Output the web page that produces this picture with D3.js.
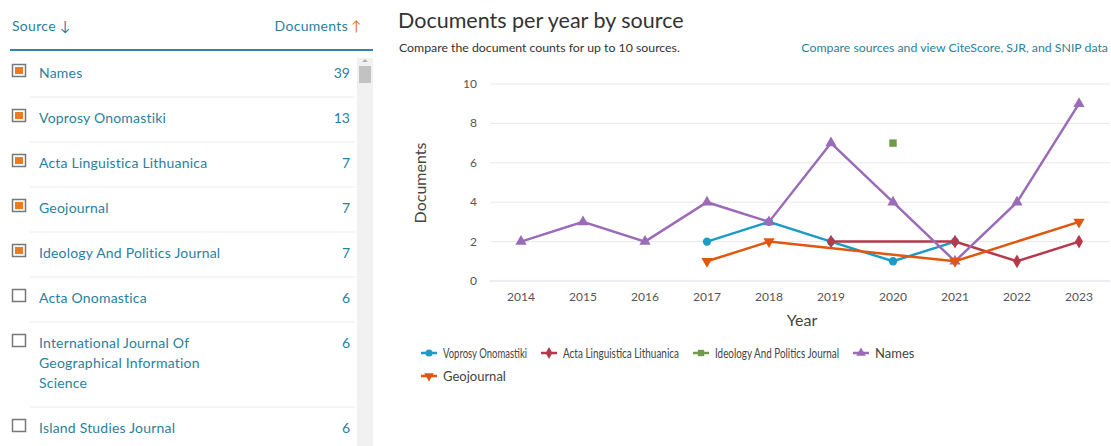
<!DOCTYPE html>
<html>
<head>
<meta charset="utf-8">
<script src="https://cdn.jsdelivr.net/npm/d3@7.9.0/dist/d3.min.js"></script>
<style>
  body { margin: 0; background: #fff; font-family: Lato, "Open Sans", sans-serif; }
  svg { display: block; }
</style>
</head>
<body>
<svg id="chart"></svg>
<script>
const width = 1111;
const height = 446;

// Data
const years = [2014, 2015, 2016, 2017, 2018, 2019, 2020, 2021, 2022, 2023];
const yTicks = [0, 2, 4, 6, 8, 10];
const voprosy = [null, null, null, 2, 3, 2, 1, 2, null, null];
const actaLing = [null, null, null, null, null, 2, null, 2, 1, 2];
const ideology = [null, null, null, null, null, null, 7, null, null, null];
const names = [2, 3, 2, 4, 3, 7, 4, 1, 4, 9];
const geojournal = [null, null, null, 1, 2, null, null, 1, null, 3];

const sourceNames = ["Names", "Voprosy Onomastiki", "Acta Linguistica Lithuanica", "Geojournal",
  "Ideology And Politics Journal", "Acta Onomastica",
  "International Journal Of Geographical Information Science", "Island Studies Journal"];
const sourceCounts = [39, 13, 7, 7, 7, 6, 6, 6];
const sourceChecked = [true, true, true, true, true, false, false, false];

const series = [
  { name: "Voprosy Onomastiki", values: voprosy, color: "#1c9bc6", symbol: d3.symbolCircle },
  { name: "Acta Linguistica Lithuanica", values: actaLing, color: "#b5394b", symbol: d3.symbolDiamond },
  { name: "Ideology And Politics Journal", values: ideology, color: "#6e9a4c", symbol: d3.symbolSquare },
  { name: "Names", values: names, color: "#9b6bb8", symbol: d3.symbolTriangle },
  { name: "Geojournal", values: geojournal, color: "#e0570f", symbol: "down" }
];

const svg = d3.select("#chart").attr("width", width).attr("height", height);

// ---- left source list ----
const teal = "#2a7f9e";
const left = svg.append("g");
left.append("text").attr("x", 12).attr("y", 31).attr("fill", teal).style("font-size", "14px")
  .style("letter-spacing", "0.3px").text("Source \u2193");
left.append("text").attr("x", 348).attr("y", 31).attr("text-anchor", "end").attr("fill", teal)
  .style("font-size", "14px").style("letter-spacing", "0.3px").text("Documents");
left.append("text").attr("x", 351).attr("y", 31).attr("fill", "#e8761e").style("font-size", "14px").text("\u2191");
left.append("line").attr("x1", 10).attr("x2", 373).attr("y1", 50).attr("y2", 50).attr("stroke", "#2f86a8").attr("stroke-width", 2);

// scrollbar
left.append("rect").attr("x", 357).attr("y", 58).attr("width", 16).attr("height", 388).attr("fill", "#f1f1f1");
left.append("rect").attr("x", 359).attr("y", 66).attr("width", 12).attr("height", 17).attr("fill", "#c2c2c2");
left.append("path").attr("d", "M362,62 L365,59 L368,62 Z").attr("fill", "#b0b0b0");

const rowTops = [52, 97, 142, 187, 232, 277, 322, 407];
const wrapped = {
  "International Journal Of Geographical Information Science":
    ["International Journal Of", "Geographical Information", "Science"]
};
sourceNames.forEach((name, i) => {
  const y = rowTops[i] + 21;
  const g = left.append("g");
  g.append("rect").attr("x", 12.5).attr("y", y - 8.5).attr("width", 13).attr("height", 12)
    .attr("fill", "#fff").attr("stroke", "#777").attr("stroke-width", 1.5);
  if (sourceChecked[i]) {
    g.append("rect").attr("x", 15).attr("y", y - 6).attr("width", 8).attr("height", 7).attr("fill", "#f07a1a");
  }
  const lines = wrapped[name] || [name];
  lines.forEach((t, k) => {
    g.append("text").attr("x", 39).attr("y", y + 5 + k * 20).attr("fill", teal)
      .style("font-size", "14px").style("letter-spacing", "0.2px").text(t);
  });
  g.append("text").attr("x", 350).attr("y", y + 5).attr("text-anchor", "end").attr("fill", teal)
    .style("font-size", "14px").text(sourceCounts[i]);
  if (i < sourceNames.length - 1) {
    const next = rowTops[i + 1];
    g.append("line").attr("x1", 30).attr("x2", 355).attr("y1", next).attr("y2", next)
      .attr("stroke", "#ececec").attr("stroke-width", 1);
  }
});

// ---- chart header ----
svg.append("text").attr("x", 398).attr("y", 28).attr("fill", "#333").style("font-size", "21.5px")
  .text("Documents per year by source");
svg.append("text").attr("x", 399).attr("y", 52).attr("fill", "#333").style("font-size", "12.3px")
  .text("Compare the document counts for up to 10 sources.");
svg.append("text").attr("x", 1108).attr("y", 52).attr("text-anchor", "end").attr("fill", teal)
  .style("font-size", "12.3px").text("Compare sources and view CiteScore, SJR, and SNIP data");

// ---- plot ----
const x = d3.scalePoint().domain(years).range([490, 1110]).padding(0.5);
const y = d3.scaleLinear().domain([0, 10]).range([281, 84]);

const plot = svg.append("g");
plot.selectAll("line.grid").data(yTicks).join("line")
  .attr("class", "grid")
  .attr("x1", 490).attr("x2", 1110)
  .attr("y1", d => y(d)).attr("y2", d => y(d))
  .attr("stroke", d => d === 0 ? "#d8dde6" : "#e8e8e8").attr("stroke-width", 1);

plot.selectAll("text.ytick").data(yTicks).join("text")
  .attr("class", "ytick")
  .attr("x", 477).attr("y", d => y(d) + 4)
  .attr("text-anchor", "end").attr("fill", "#555").style("font-size", "12px")
  .text(d => d);

plot.selectAll("text.xtick").data(years).join("text")
  .attr("class", "xtick")
  .attr("x", d => x(d)).attr("y", 301)
  .attr("text-anchor", "middle").attr("fill", "#555").style("font-size", "12px")
  .text(d => d);

svg.append("text").attr("x", 802).attr("y", 326).attr("text-anchor", "middle").attr("fill", "#444")
  .style("font-size", "16px").text("Year");
svg.append("text").attr("transform", "translate(426,183) rotate(-90)").attr("text-anchor", "middle")
  .attr("fill", "#444").style("font-size", "16px").text("Documents");

function symbolPath(sym, size) {
  if (sym === "down") return d3.symbol(d3.symbolTriangle, size)();
  return d3.symbol(sym, size)();
}

const line = d3.line().x(d => x(d.year)).y(d => y(d.value));

series.forEach(s => {
  const pts = years.map((yr, i) => ({ year: yr, value: s.values[i] })).filter(d => d.value !== null);
  if (pts.length > 1) {
    plot.append("path").datum(pts).attr("d", line)
      .attr("fill", "none").attr("stroke", s.color).attr("stroke-width", 2.5);
  }
  const size = s.symbol === d3.symbolCircle ? 55 : 55;
  plot.selectAll(null).data(pts).join("path")
    .attr("d", symbolPath(s.symbol, size))
    .attr("transform", d => `translate(${x(d.year)},${y(d.value)})` + (s.symbol === "down" ? " rotate(180)" : ""))
    .attr("fill", s.color);
});

// ---- legend ----
const legendPos = [[421, 353], [541, 353], [693, 353], [853, 353], [421, 376]];
series.forEach((s, i) => {
  const [lx, ly] = legendPos[i];
  const g = svg.append("g").attr("transform", `translate(${lx},${ly})`);
  g.append("line").attr("x1", 0).attr("x2", 16).attr("stroke", s.color).attr("stroke-width", 2.5);
  g.append("path").attr("d", symbolPath(s.symbol, 40))
    .attr("transform", "translate(8,0)" + (s.symbol === "down" ? " rotate(180)" : ""))
    .attr("fill", s.color);
  const t = g.append("text").attr("x", 22).attr("y", 4.5).attr("fill", "#444")
    .style("font-size", "13px").text(s.name);
  // squeeze the label if it would run into the next legend item on the same row
  const nextSame = legendPos.slice(i + 1).find(p => p[1] === ly);
  if (nextSame) {
    const avail = nextSame[0] - lx - 22 - 14;
    const w = t.node().getComputedTextLength();
    if (w > avail) t.attr("textLength", avail).attr("lengthAdjust", "spacingAndGlyphs");
  }
});
</script>
</body>
</html>
